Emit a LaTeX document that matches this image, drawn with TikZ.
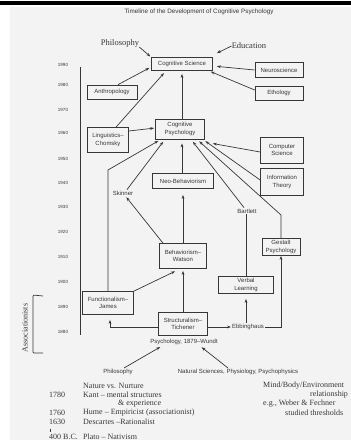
\documentclass[tikz,border=0pt]{standalone}
\usepackage{fontspec}
\setmainfont{Liberation Serif}
\setsansfont{Liberation Sans}
\usetikzlibrary{arrows.meta,positioning}
\definecolor{scangray}{RGB}{243,243,243}
\definecolor{inkgray}{RGB}{55,55,55}

\begin{document}
\begin{tikzpicture}[x=1pt,y=-1pt,
  box/.style={draw=inkgray,line width=0.7pt,font=\sffamily\fontsize{6}{7.5}\selectfont,align=center,inner sep=0pt,text=inkgray},
  lbl/.style={font=\sffamily\fontsize{6}{7}\selectfont,inner sep=1pt,text=inkgray},
  ser/.style={font=\fontsize{8}{9}\selectfont,inner sep=0pt,text=inkgray},
  yr/.style={font=\sffamily\fontsize{4.5}{5}\selectfont,text=inkgray},
  arr/.style={draw=inkgray,line width=0.7pt,-{Stealth[length=4pt,width=2.8pt]}},
  ln/.style={draw=inkgray,line width=0.7pt}]
\useasboundingbox (0,0) rectangle (351,440);
\fill[scangray] (10,7) rectangle (351,440);
\fill[black] (0,0.5) rectangle (351,5);
\node[lbl,font=\sffamily\fontsize{6.3}{7}\selectfont] (title) at (199,12) {Timeline of the Development of Cognitive Psychology};

\foreach \yr/\py in {1990/65,1980/85,1970/110,1960/133,1950/159,1940/183,1930/207,1920/232,1910/257,1900/282,1890/307,1880/332}
  \node[yr] at (63,\py) {\yr};
\draw[ln] (80,67) -- (80,335);
\node[ser,rotate=90] (assoc) at (25,328) {Associationists};
\draw[ln,rounded corners=1pt] (43,296) -- (33,295) -- (33,353) -- (43,353);

\node[box,minimum width=61pt,minimum height=13pt] (cogsci) at (182,64) {Cognitive Science};
\node[box,minimum width=48pt,minimum height=15pt] (neuro) at (279,70) {Neuroscience};
\node[box,minimum width=48pt,minimum height=14pt] (etho) at (279,93) {Ethology};
\node[box,minimum width=50pt,minimum height=14pt] (anthro) at (112,92) {Anthropology};
\node[box,minimum width=41pt,minimum height=25pt] (ling) at (108,140) {Linguistics--\\Chomsky};
\node[box,minimum width=49pt,minimum height=20pt] (cogpsy) at (180,129) {Cognitive\\Psychology};
\node[box,minimum width=43pt,minimum height=26pt] (compsci) at (282,150) {Computer\\Science};
\node[box,minimum width=43pt,minimum height=27pt] (info) at (282,182) {Information\\Theory};
\node[box,minimum width=61pt,minimum height=15pt] (neobeh) at (183,181) {Neo-Behaviorism};
\node[box,minimum width=47pt,minimum height=25pt] (beh) at (183,256) {Behaviorism--\\Watson};
\node[box,minimum width=38pt,minimum height=17pt] (gestalt) at (281,247) {Gestalt\\Psychology};
\node[box,minimum width=55pt,minimum height=17pt] (verbal) at (246,285) {Verbal\\Learning};
\node[box,minimum width=51pt,minimum height=23pt] (func) at (108,303) {Functionalism--\\James};
\node[box,minimum width=49pt,minimum height=23pt] (struct) at (183,324) {Structuralism--\\Tichener};

\node[ser,font=\fontsize{8.5}{9}\selectfont] (philtop) at (120,43) {Philosophy};
\node[ser,font=\fontsize{8.5}{9}\selectfont] (edu) at (249,46) {Education};
\node[lbl] (skinner) at (123,193) {Skinner};
\node[lbl] (bartlett) at (247,211) {Bartlett};
\node[lbl] (ebb) at (248,327) {Ebbinghaus};
\node[lbl] (wundt) at (184,342) {Psychology, 1879--Wundt};
\node[lbl] (philbot) at (118,372) {Philosophy};
\node[lbl] (nat) at (238,372) {Natural Sciences, Physiology, Psychophysics};

\draw[arr,shorten >=1pt] (philtop.south east) -- (cogsci.north west);
\draw[arr] (edu.west) -- ([xshift=4pt,yshift=4pt]cogsci.north east);
\draw[arr,shorten >=4pt] (neuro.west) -- ([yshift=-2pt]cogsci.east);
\draw[arr,shorten >=2pt] ([yshift=3pt]etho.west) -- ([xshift=-4pt]cogsci.south east);
\draw[arr,shorten >=2pt] ([xshift=6pt]anthro.north) -- ([yshift=-3pt]cogsci.west);
\draw[arr,shorten >=3pt] ([xshift=8pt]ling.north) -- ([xshift=-16pt]cogsci.south);
\draw[arr,shorten >=3pt] (cogsci.south |- cogpsy.north) -- (cogsci.south);
\draw[arr,shorten >=1pt] ([yshift=9pt]ling.east) -- ([yshift=1pt]cogpsy.west);

\draw[arr,shorten >=1pt] ([yshift=-2pt]compsci.west) -- ([xshift=7pt,yshift=-4pt]cogpsy.south east);
\draw[arr,shorten >=3pt] ([yshift=2pt]info.west) -- ([xshift=-2pt]cogpsy.south east);
\draw[arr,shorten >=4pt] (cogsci.south |- neobeh.north) -- (cogsci.south |- cogpsy.south);
\draw[arr,shorten >=3pt] ([xshift=-3pt]bartlett.north) -- ([xshift=11pt]cogpsy.south);
\draw[arr,shorten >=3pt] (gestalt.north) -- (281,215) -- ([xshift=17pt]cogpsy.south);
\draw[arr,shorten >=3pt] ([xshift=4pt]skinner.north) -- ([xshift=-15pt]cogpsy.south);
\draw[arr,shorten >=3pt] (func.north) -- (108,170) -- ([xshift=-19pt]cogpsy.south);

\draw[arr,shorten >=6pt] (beh.north) -- (neobeh.south);
\draw[arr,shorten >=1pt] ([xshift=-20pt]beh.north) -- (skinner);
\draw[arr,shorten >=2pt] (struct.north) -- (beh.south);
\draw[arr,shorten >=1pt] (func.north east) -- ([xshift=-7pt,yshift=-2pt]beh.south);
\draw[arr,shorten >=5pt] ([yshift=-3pt]struct.west) -| ([xshift=2pt]func.south);
\draw[arr] ([yshift=-3pt]struct.east) -- (ebb.west);
\draw[arr] (ebb.east) -| (gestalt.south);
\draw[arr,shorten >=5pt] (verbal.south |- ebb.north) -- (verbal.south);
\draw[ln] (verbal.north) -- (verbal.north |- bartlett.south);
\draw[arr,shorten >=2pt] ([xshift=6pt]philbot.north) -- ([xshift=-22pt]wundt.south);
\draw[arr,shorten >=2pt] ([xshift=-10pt]nat.north) -- ([xshift=16pt]wundt.south);

\node[ser,anchor=west] (nature) at (83,386) {Nature vs. Nurture};
\node[ser,anchor=west] (y1780) at (49,395) {1780};
\node[ser,anchor=west] (kant) at (83,395) {Kant -- mental structures};
\node[ser,anchor=west] (exper) at (118,404) {\& experience};
\node[ser,anchor=west] (y1760) at (49,413) {1760};
\node[ser,anchor=west] (hume) at (83,413) {Hume -- Empiricist (associationist)};
\node[ser,anchor=west] (y1630) at (49,422) {1630};
\node[ser,anchor=west] (desc) at (83,422) {Descartes --Rationalist};
\draw[ln,line width=0.5pt] (50,428.5) -- (50,432);
\node[ser,anchor=west] (y400) at (49,436.5) {400 B.C.};
\node[ser,anchor=west] (plato) at (83,436.5) {Plato -- Nativism};
\node[ser,anchor=west] (mind) at (263,386) {Mind/Body/Environment};
\node[ser,anchor=west] (rel) at (310,395) {relationship};
\node[ser,anchor=west] (weber) at (263,404) {e.g., Weber \& Fechner};
\node[ser,anchor=west] (thresh) at (285,413) {studied thresholds};
\end{tikzpicture}
\end{document}
